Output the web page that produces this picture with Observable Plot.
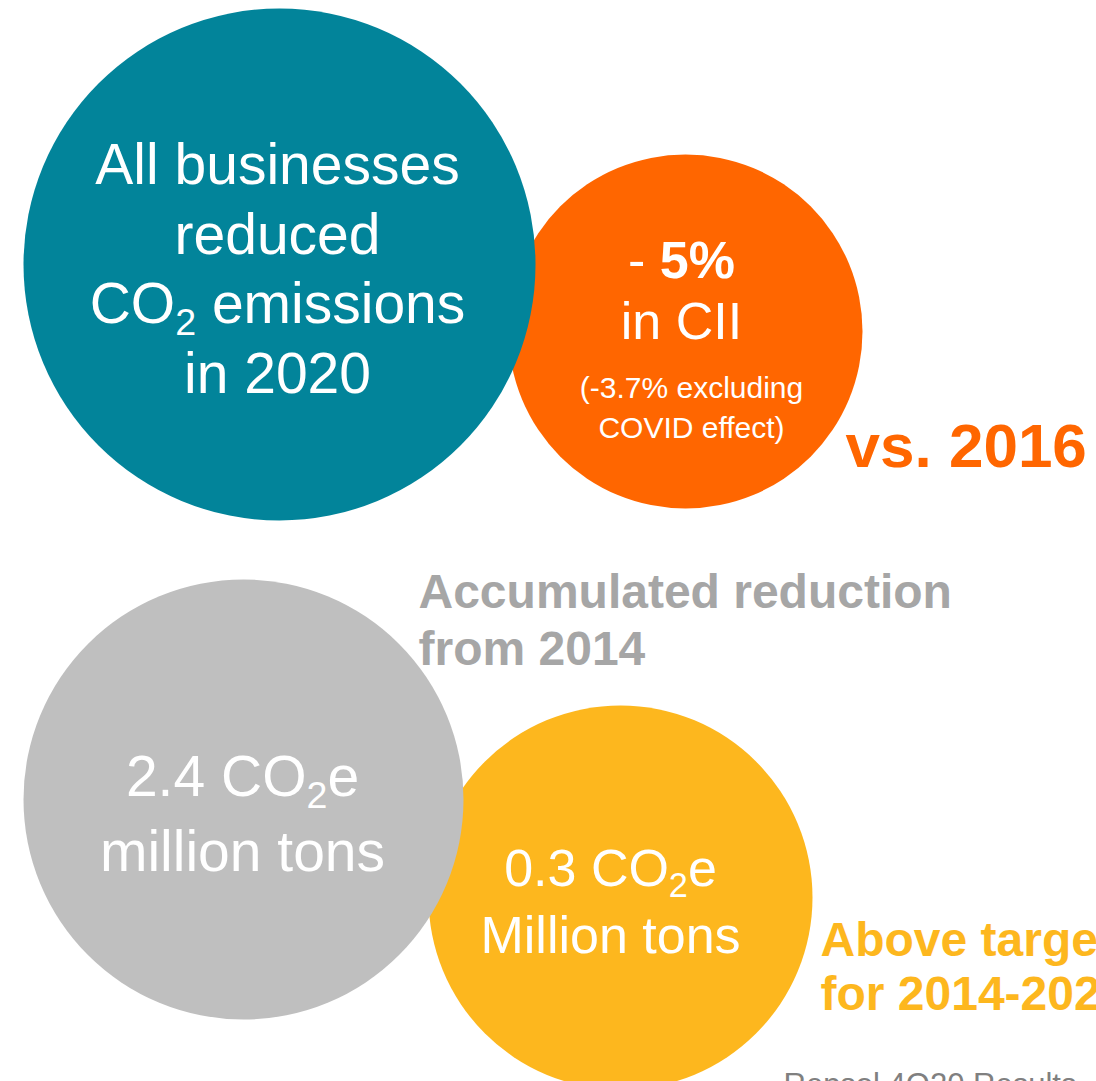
<!DOCTYPE html>
<html>
<head>
<meta charset="utf-8">
<script src="https://cdn.jsdelivr.net/npm/d3@7"></script>
<script src="https://cdn.jsdelivr.net/npm/@observablehq/plot@0.6"></script>
<style>
  html, body { margin: 0; padding: 0; background: #ffffff; overflow: hidden; }
  #chart svg { display: block; overflow: hidden; max-width: none; }
</style>
</head>
<body>
<div id="chart"></div>
<script>
// ---------- DATA ----------
const bubbleNames = ["CII reduction", "All businesses", "Above target", "Accumulated"];
const bubbleColors = ["#FF6600", "#02849A", "#FDB71E", "#BFBFBF"];

const businessLines = ["All businesses", "reduced", "CO_2 emissions", "in 2020"];
const ciiLines = ["- **5%**", "in CII"];
const ciiNoteLines = ["(-3.7% excluding", "COVID effect)"];
const accumulatedLines = ["2.4 CO_2e", "million tons"];
const targetLines = ["0.3 CO_2e", "Million tons"];
const sideLabels = ["vs. 2016", "Accumulated reduction", "from 2014", "Above target", "for 2014-2020"];
const sideColors = ["#FF6600", "#A6A6A6", "#A6A6A6", "#FDB71E", "#FDB71E"];
const footerText = ["Repsol 4Q20 Results"];

// ---------- LAYOUT (positions / sizes, kept apart from the data) ----------
const W = 1096, H = 1081;
const bubbleGeom = [
  {cx: 685, cy: 331, r: 177},
  {cx: 279, cy: 264, r: 256},
  {cx: 620, cy: 897, r: 192},
  {cx: 243, cy: 799, r: 220}
];
const bubbles = bubbleNames.map((name, i) => ({name, color: bubbleColors[i], ...bubbleGeom[i]}));

const lineLayout = [
  {lines: businessLines, x: 277, ys: [183, 253, 322, 392], size: 57},
  {lines: ciiLines, x: 681, ys: [277, 338], size: 52},
  {lines: ciiNoteLines, x: 691, ys: [397, 437], size: 30},
  {lines: accumulatedLines, x: 242, ys: [795, 870], size: 57},
  {lines: targetLines, x: 610, ys: [885, 952], size: 52}
];
const whiteText = lineLayout.flatMap(g => g.lines.map((t, i) => ({text: t, x: g.x, y: g.ys[i], size: g.size})));

const sideGeom = [
  {x: 845, y: 466, size: 62},
  {x: 418, y: 607, size: 48},
  {x: 418, y: 664, size: 48},
  {x: 820, y: 955, size: 48},
  {x: 820, y: 1009, size: 48}
];
const sideText = sideLabels.map((t, i) => ({text: t, color: sideColors[i], ...sideGeom[i]}));
const footer = footerText.map(t => ({text: t, x: 783, y: 1094}));

const FONT = "'Liberation Sans', Arial, Helvetica, sans-serif";

const chart = Plot.plot({
  width: W,
  height: H,
  margin: 0,
  style: {fontFamily: FONT, background: "#ffffff", overflow: "hidden"},
  x: {domain: [0, W], range: [0, W], axis: null},
  y: {domain: [0, H], range: [0, H], axis: null},
  r: {type: "identity"},
  color: {type: "identity"},
  marks: [
    Plot.dot(bubbles, {x: "cx", y: "cy", r: "r", fill: "color", stroke: null, sort: null}),
    Plot.text(whiteText, {
      x: "x", y: "y", text: "text", fontSize: "size",
      fill: "#ffffff", textAnchor: "middle", lineAnchor: "bottom", fontFamily: FONT
    }),
    Plot.text(sideText, {
      x: "x", y: "y", text: "text", fontSize: "size", fill: "color",
      fontWeight: "bold", textAnchor: "start", lineAnchor: "bottom", fontFamily: FONT
    }),
    Plot.text(footer, {
      x: "x", y: "y", text: "text", fontSize: 31,
      fill: "#808080", textAnchor: "start", lineAnchor: "bottom", fontFamily: FONT
    })
  ]
});

// Rich text: **bold** and _2 subscript, rebuilt as tspans
d3.select(chart).selectAll("text").each(function() {
  const el = this;
  if (el.querySelector("tspan")) return;
  const content = el.textContent;
  if (!/(\*\*|_2)/.test(content)) return;
  const size = parseFloat(el.getAttribute("font-size") || getComputedStyle(el).fontSize) || 50;
  el.textContent = "";
  const parts = content.split(/(\*\*[^*]+\*\*|_2)/).filter(p => p.length);
  let pendingUp = 0;
  const ns = "http://www.w3.org/2000/svg";
  for (const p of parts) {
    const ts = document.createElementNS(ns, "tspan");
    if (p === "_2") {
      ts.textContent = "2";
      ts.setAttribute("font-size", (size * 0.66).toFixed(1));
      ts.setAttribute("dy", (size * 0.22).toFixed(1));
      pendingUp = size * 0.22;
    } else {
      if (p.startsWith("**")) {
        ts.textContent = p.slice(2, -2);
        ts.setAttribute("font-weight", "bold");
      } else {
        ts.textContent = p;
      }
      if (pendingUp) { ts.setAttribute("dy", (-pendingUp).toFixed(1)); pendingUp = 0; }
    }
    el.appendChild(ts);
  }
});

document.getElementById("chart").appendChild(chart);
</script>
</body>
</html>
